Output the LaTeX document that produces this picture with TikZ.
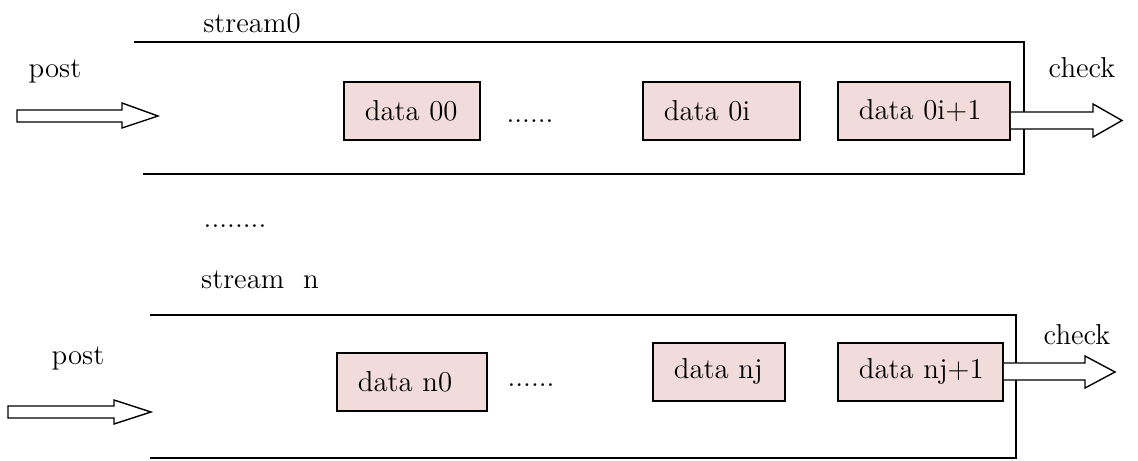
\documentclass[tikz,border=0pt]{standalone}
\usepackage{tikz}
\definecolor{boxpink}{RGB}{242,220,219}
\begin{document}
\begin{tikzpicture}[x=0.5pt,y=-0.5pt,
  lbl/.style={font=\Large},
  databox/.style={draw,line width=0.9pt,fill=boxpink,anchor=north west,minimum height=29pt,inner xsep=10.5pt,align=left,font=\Large},
  streamline/.style={line width=1pt},
  blockarr/.style={draw,fill=white,line width=0.7pt,line join=miter}]
\useasboundingbox (0,0) rectangle (1138,460);

\node[lbl] (s0) at (252,23) {stream0};
\node[lbl] (post0) at (55,71) {post};
\node[lbl] (check0) at (1082,68) {check};
\draw[streamline] (134,42) -- (1024,42) -- (1024,174) -- (143,174);

\node[databox,text width=47pt] (d00) at (343,81) {data 00};
\node[lbl] (dots0) at (530,121) {......};
\node[databox,text width=57.5pt] (d0i) at (642,81) {data 0i};
\node[databox,text width=65pt] (d0ip) at (837,81) {\mbox{data 0i+1}};

\draw[blockarr] (17,110) -- (122,110) -- (122,103) -- (158,116) -- (122,128) -- (122,122) -- (17,122) -- cycle;
\draw[blockarr] (d0ip.east |- 0,112) -- (1093,112) -- (1093,104) -- (1122,120.5) -- (1093,137) -- (1093,129) -- (d0ip.east |- 0,129);

\node[lbl] (vdots) at (235,226) {........};

\node[lbl] (sn) at (260,280) {stream\ \ n};
\node[lbl] (postn) at (78,358) {post};
\node[lbl] (checkn) at (1077,335) {check};
\draw[streamline] (150,315) -- (1016,315) -- (1016,458) -- (150,458);

\node[databox,text width=54pt] (dn0) at (336,352) {data n0};
\node[lbl] (dotsn) at (531,385) {......};
\node[databox,text width=45pt] (dnj) at (652,342) {data nj};
\node[databox,text width=61.5pt] (dnjp) at (837,342) {\mbox{data nj+1}};

\draw[blockarr] (8,406) -- (114,406) -- (114,400) -- (151,412) -- (114,424) -- (114,418) -- (8,418) -- cycle;
\draw[blockarr] (dnjp.east |- 0,363) -- (1085,363) -- (1085,356) -- (1115,372) -- (1085,388) -- (1085,380) -- (dnjp.east |- 0,380);

\end{tikzpicture}
\end{document}
